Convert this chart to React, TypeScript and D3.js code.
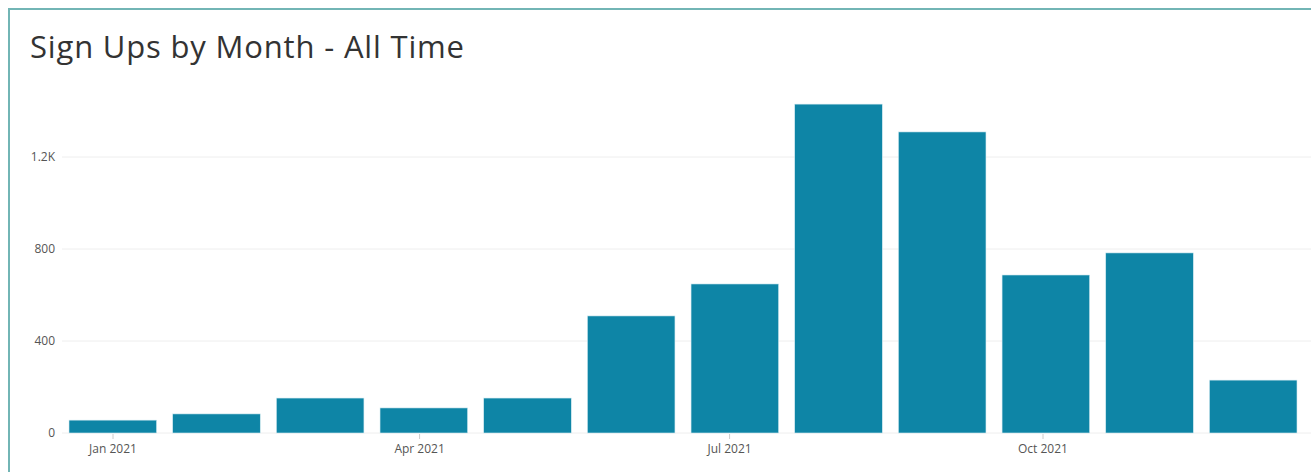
import React from "react";
import * as d3 from "d3";

const months = ["2021-01", "2021-02", "2021-03", "2021-04", "2021-05", "2021-06", "2021-07", "2021-08", "2021-09", "2021-10", "2021-11", "2021-12"];
const signUps = [56, 83, 152, 109, 152, 509, 648, 1430, 1309, 687, 783, 230];
const yTicks = [0, 400, 800, 1200];
const xTickDates = ["2021-01-01", "2021-04-01", "2021-07-01", "2021-10-01"];
const title = "Sign Ups by Month - All Time";

const W = 1311;
const H = 472;
const FONT = "'Open Sans', sans-serif";

export default function App() {
  const x = d3.scaleBand<string>().domain(months).range([69, 1297]).paddingInner(0.155).paddingOuter(0);
  const xt = d3.scaleTime()
    .domain([new Date(2021, 0, 1), new Date(2021, 9, 1)])
    .range([113, 1043]);
  const y = d3.scaleLinear().domain([0, 1200]).range([433, 157]);
  const fmt = (v: number) => (v >= 1000 ? d3.format(".1~f")(v / 1000) + "K" : String(v));
  const parse = d3.timeParse("%Y-%m-%d");
  const tickFmt = d3.timeFormat("%b %Y");

  return (
    <svg width={W} height={H} style={{ position: "absolute", left: 0, top: 0, display: "block" }}>
      <rect x={0} y={0} width={W} height={H} fill="#ffffff" />
      <rect x={9} y={9} width={W + 20} height={H + 20} fill="none" stroke="#72b5b5" strokeWidth={2} />
      <text x={30} y={57.5} fontFamily={FONT} fontSize={31} fill="#333333" textLength={434} lengthAdjust="spacing">{title}</text>
      {yTicks.map((t) => (
        <g key={t}>
          <line x1={62} x2={W} y1={y(t)} y2={y(t)} stroke="#eeeeee" strokeWidth={1} />
          <text x={55} y={y(t)} dy="0.35em" textAnchor="end" fontFamily={FONT} fontSize={12} fill="#555555">{fmt(t)}</text>
        </g>
      ))}
      {months.map((m, i) => (
        <rect key={m} x={x(m)} y={y(signUps[i])} width={x.bandwidth()} height={y(0) - y(signUps[i])}
          fill="#0e85a6" stroke="#d6ecf2" strokeWidth={0.6} />
      ))}
      {xTickDates.map((d) => {
        const dt = parse(d)!;
        const px = xt(dt);
        return (
          <g key={d}>
            <line x1={px} x2={px} y1={434} y2={439} stroke="#cccccc" strokeWidth={1} />
            <text x={px} y={453} textAnchor="middle" fontFamily={FONT} fontSize={12} fill="#555555">{tickFmt(dt)}</text>
          </g>
        );
      })}
    </svg>
  );
}
